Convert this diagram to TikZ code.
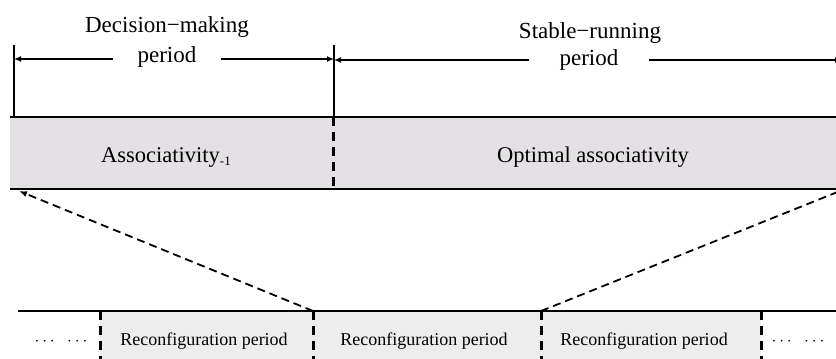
\documentclass[tikz,border=0pt]{standalone}
\usepackage{fontspec}
\setmainfont{Liberation Serif}
\usetikzlibrary{arrows.meta}
\definecolor{bandgray}{HTML}{E4E1E4}
\definecolor{slotgray}{HTML}{EDEDED}
\begin{document}
\begin{tikzpicture}[x=1pt,y=-1pt,
  head/.style={font=\fontsize{23}{26}\selectfont, inner sep=0pt, anchor=base},
  bandtxt/.style={font=\fontsize{22.5}{25}\selectfont, inner sep=0pt, anchor=base},
  slottxt/.style={font=\fontsize{18}{20}\selectfont, inner sep=0pt, anchor=base},
  rule/.style={line width=2.4pt},
  tick/.style={line width=1.4pt},
  dimline/.style={line width=1.4pt, -{Latex[length=7pt,width=6pt]}},
  sep/.style={line width=3pt, dash pattern=on 9pt off 6pt},
  zoomline/.style={line width=1.8pt, dash pattern=on 8pt off 5pt, -{Latex[length=8pt,width=6pt]}}]
\useasboundingbox (0,0) rectangle (836,359);
\clip (0,0) rectangle (836,359);

% upper band: one associativity period after another
\fill[bandgray] (10,117) rectangle (850,189);
\draw[rule] (10,117) -- (850,117);
\draw[rule] (10,189) -- (850,189);
\draw[sep] (333,117) -- (333,189);
\node[bandtxt] (assoc) at (166,162) {Associativity\raisebox{-0.3ex}{\fontsize{13}{13}\selectfont -1}};
\node[bandtxt] (optimal) at (593,162) {Optimal associativity};

% extent marks above the band
\coordinate (tL0) at (14,45);  \coordinate (tL1) at (14,117);
\coordinate (tM0) at (334,45); \coordinate (tM1) at (334,117);
\draw[tick] (tL0) -- (tL1);
\draw[tick] (tM0) -- (tM1);

% decision-making period
\node[head] (dm) at (167,32) {Decision−making};
\node[head, inner xsep=24pt] (dmp) at (167,62) {period};
\coordinate (dL) at (14,59);
\coordinate (dM) at (334,59);
\draw[dimline] (dmp.west |- dL) -- (dL);
\draw[dimline] (dmp.east |- dM) -- (dM);

% stable-running period
\node[head] (sr) at (590,38) {Stable−running};
\node[head, inner xsep=30pt] (srp) at (589,65) {period};
\coordinate (sM) at (334,60);
\coordinate (sR) at (842,60);
\draw[dimline] (srp.west |- sM) -- (sM);
\draw[dimline] (srp.east |- sR) -- (sR);

% lower band: reconfiguration periods
\fill[slotgray] (100,311) rectangle (761,365);
\draw[rule] (18,311) -- (850,311);
\foreach \x/\n in {100/a,313/b,541/c,761/d}{
  \coordinate (k\n) at (\x,311);
  \draw[sep] (k\n) -- (\x,365);
}
\node[slottxt] (r1) at (204,345) {Reconfiguration period};
\node[slottxt] (r2) at (424,345) {Reconfiguration period};
\node[slottxt] (r3) at (644,345) {Reconfiguration period};
\node[slottxt] (dots1) at (61,345) {$\cdots\;\;\cdots$};
\node[slottxt] (dots2) at (798,345) {$\cdots\;\;\cdots$};

% one reconfiguration period magnified into the upper band
\coordinate (uL) at (19,191);
\coordinate (uR) at (845,189);
\draw[zoomline] (kb) -- (uL);
\draw[zoomline] (kc) -- (uR);
\end{tikzpicture}
\end{document}
